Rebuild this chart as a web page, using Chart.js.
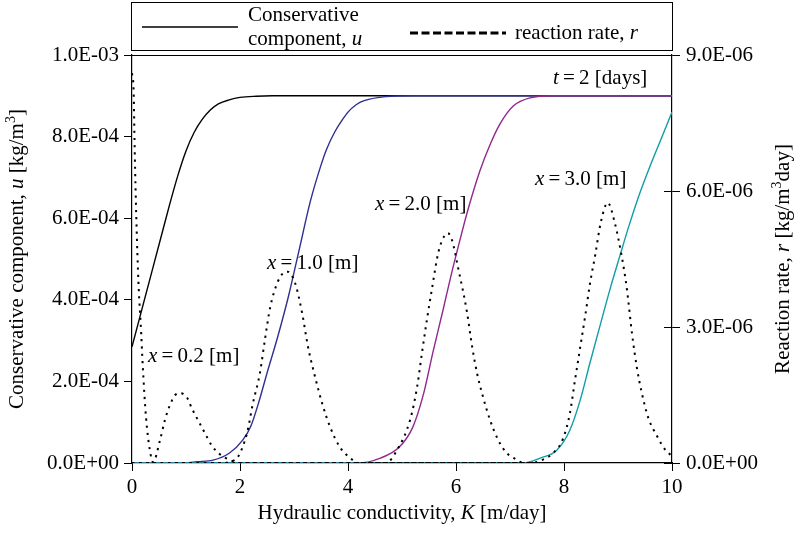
<!DOCTYPE html>
<html lang="en">
<head>
<meta charset="UTF-8">
<title>Conservative component and reaction rate vs hydraulic conductivity</title>
<script src="https://cdn.jsdelivr.net/npm/chart.js"></script>
<style>
  body { margin: 0; background: #fff; }
  canvas { display: block; }
</style>
</head>
<body>
<canvas id="chart" width="794" height="533"></canvas>
<script>
// hydraulic conductivity K [m/day] -> conservative component u [kg/m3], one pair per distance x
const kU02 = [0, 0.2, 0.4, 0.55, 0.7, 0.85, 1.0, 1.15, 1.3, 1.45, 1.6, 1.8, 2.0, 2.3, 2.6, 10];
const u02  = [2.85e-4, 3.85e-4, 4.85e-4, 5.6e-4, 6.35e-4, 7.05e-4, 7.65e-4, 8.1e-4, 8.42e-4, 8.65e-4, 8.8e-4, 8.9e-4, 8.96e-4, 8.99e-4, 9.0e-4, 9.0e-4];

const kU10 = [0, 1.0, 1.2, 1.5, 1.8, 2.05, 2.2, 2.35, 2.5, 2.7, 2.9, 3.1, 3.3, 3.5, 3.6, 3.75, 3.9, 4.0, 4.15, 4.3, 4.7, 5.2, 10];
const u10  = [0, 0, 0.03e-4, 0.07e-4, 0.24e-4, 0.56e-4, 0.9e-4, 1.5e-4, 2.2e-4, 3.1e-4, 4.1e-4, 5.25e-4, 6.4e-4, 7.3e-4, 7.68e-4, 8.1e-4, 8.42e-4, 8.6e-4, 8.78e-4, 8.88e-4, 8.98e-4, 9.0e-4, 9.0e-4];

const kU20 = [0, 4.2, 4.6, 4.95, 5.2, 5.4, 5.57, 5.76, 5.9, 6.07, 6.22, 6.44, 6.63, 6.81, 7.06, 7.37, 7.8, 10];
const u20  = [0, 0, 0.12e-4, 0.39e-4, 0.88e-4, 1.7e-4, 2.7e-4, 3.75e-4, 4.55e-4, 5.45e-4, 6.2e-4, 7.15e-4, 7.8e-4, 8.3e-4, 8.75e-4, 8.95e-4, 9.0e-4, 9.0e-4];

const kU30 = [0, 7.25, 7.56, 7.87, 8.11, 8.3, 8.48, 8.67, 8.85, 9.04, 9.2, 9.4, 9.6, 9.8, 10];
const u30  = [0, 0, 0.12e-4, 0.32e-4, 0.81e-4, 1.54e-4, 2.45e-4, 3.38e-4, 4.25e-4, 5.1e-4, 5.8e-4, 6.6e-4, 7.3e-4, 7.95e-4, 8.6e-4];

// reaction rate r [kg/m3day]
const kR02 = [0, 0.03, 0.05, 0.08, 0.12, 0.17, 0.2, 0.26, 0.33, 0.39, 0.52, 0.61, 0.7, 0.8, 0.89, 1.02, 1.11, 1.22, 1.35, 1.48, 1.63, 1.81, 2.0, 10];
const r02  = [8.6e-6, 8.2e-6, 6.9e-6, 5.4e-6, 3.97e-6, 2.87e-6, 2.12e-6, 1.0e-6, 0.29e-6, 0.02e-6, 0.51e-6, 0.95e-6, 1.27e-6, 1.5e-6, 1.54e-6, 1.44e-6, 1.2e-6, 0.95e-6, 0.66e-6, 0.38e-6, 0.19e-6, 0.07e-6, 0, 0];

const kR10 = [0, 1.7, 1.85, 1.96, 2.13, 2.24, 2.37, 2.46, 2.56, 2.69, 2.8, 2.88, 3.02, 3.15, 3.26, 3.39, 3.52, 3.67, 3.85, 4.04, 4.2, 10];
const r10  = [0, 0, 0.04e-6, 0.13e-6, 0.66e-6, 1.32e-6, 1.99e-6, 2.71e-6, 3.44e-6, 3.97e-6, 4.19e-6, 4.22e-6, 3.97e-6, 3.31e-6, 2.56e-6, 1.9e-6, 1.32e-6, 0.79e-6, 0.35e-6, 0.11e-6, 0, 0];

const kR20 = [0, 4.7, 4.91, 5.15, 5.28, 5.37, 5.46, 5.56, 5.67, 5.78, 5.85, 5.93, 6.04, 6.2, 6.3, 6.39, 6.5, 6.63, 6.78, 6.94, 7.13, 7.25, 10];
const r20  = [0, 0, 0.29e-6, 0.95e-6, 1.68e-6, 2.43e-6, 3.15e-6, 3.88e-6, 4.63e-6, 5.0e-6, 5.07e-6, 4.9e-6, 4.3e-6, 3.35e-6, 2.56e-6, 1.98e-6, 1.46e-6, 0.95e-6, 0.51e-6, 0.22e-6, 0.07e-6, 0, 0];

const kR30 = [0, 7.4, 7.6, 7.8, 7.98, 8.11, 8.2, 8.3, 8.4, 8.48, 8.58, 8.68, 8.81, 8.94, 9.07, 9.16, 9.26, 9.35, 9.44, 9.56, 9.72, 9.87, 10];
const r30  = [0, 0, 0.07e-6, 0.22e-6, 0.53e-6, 1.1e-6, 1.8e-6, 2.55e-6, 3.3e-6, 3.95e-6, 4.6e-6, 5.3e-6, 5.74e-6, 5.3e-6, 4.55e-6, 3.88e-6, 2.85e-6, 2.1e-6, 1.55e-6, 1.0e-6, 0.6e-6, 0.3e-6, 0.15e-6];

const xTicks = [0, 2, 4, 6, 8, 10];
const uTicks = [0, 2e-4, 4e-4, 6e-4, 8e-4, 1e-3];
const rTicks = [0, 3e-6, 6e-6, 9e-6];

const SERIF = '"Liberation Serif", "Times New Roman", serif';
const FS = 21;

function pts(ks, vs) {
  return ks.map((k, i) => ({ x: k, y: vs[i] }));
}

function sci(v) {
  const [m, e] = Number(v).toExponential(1).split('e');
  const n = parseInt(e, 10);
  return m.toUpperCase() + 'E' + (n < 0 ? '-' : '+') + String(Math.abs(n)).padStart(2, '0');
}

function uLine(ks, vs, color) {
  return { data: pts(ks, vs), yAxisID: 'y', borderColor: color, borderWidth: 1.4,
           pointRadius: 0, cubicInterpolationMode: 'monotone', fill: false };
}
function rLine(ks, vs) {
  return { data: pts(ks, vs), yAxisID: 'y1', borderColor: '#000', borderWidth: 2,
           borderDash: [2.2, 5], pointRadius: 0, cubicInterpolationMode: 'monotone', fill: false };
}

function fontOf(p, size) {
  return (p.it ? 'italic ' : '') + Math.round(p.sup ? size * 0.65 : size) + 'px ' + SERIF;
}
function rich(ctx, parts, x, y, size, align) {
  let w = 0;
  parts.forEach(p => { ctx.font = fontOf(p, size); w += ctx.measureText(p.t).width; });
  let cx = align === 'center' ? x - w / 2 : x;
  ctx.textAlign = 'left';
  ctx.textBaseline = 'alphabetic';
  parts.forEach(p => {
    ctx.font = fontOf(p, size);
    ctx.fillText(p.t, cx, y + (p.sup ? -size * 0.38 : 0));
    cx += ctx.measureText(p.t).width;
  });
}

const T = '\u2009';
const labels = [
  { parts: [{ t: 't', it: true }, { t: T + '=' + T + '2 [days]' }], x: 553, y: 84 },
  { parts: [{ t: 'x', it: true }, { t: T + '=' + T + '3.0 [m]' }], x: 535, y: 185 },
  { parts: [{ t: 'x', it: true }, { t: T + '=' + T + '2.0 [m]' }], x: 375, y: 210 },
  { parts: [{ t: 'x', it: true }, { t: T + '=' + T + '1.0 [m]' }], x: 267, y: 269 },
  { parts: [{ t: 'x', it: true }, { t: T + '=' + T + '0.2 [m]' }], x: 148, y: 362 }
];

const decor = {
  id: 'decor',
  afterDraw(chart) {
    const ctx = chart.ctx;
    const a = chart.chartArea;
    ctx.save();
    ctx.fillStyle = '#000';
    ctx.strokeStyle = '#000';

    // top frame line
    ctx.lineWidth = 1.2;
    ctx.beginPath();
    ctx.moveTo(a.left - 4, a.top + 0.5);
    ctx.lineTo(a.right, a.top + 0.5);
    ctx.stroke();

    // inner half of the right axis ticks
    const r = chart.scales.y1;
    ctx.lineWidth = 1;
    rTicks.forEach(v => {
      const py = Math.round(r.getPixelForValue(v)) + 0.5;
      ctx.beginPath();
      ctx.moveTo(a.right - 8, py);
      ctx.lineTo(a.right, py);
      ctx.stroke();
    });

    // legend box
    ctx.lineWidth = 1;
    ctx.strokeRect(131.5, 2.5, 541, 48);
    ctx.lineWidth = 1.3;
    ctx.beginPath();
    ctx.moveTo(142, 27);
    ctx.lineTo(238, 27);
    ctx.stroke();
    rich(ctx, [{ t: 'Conservative' }], 248, 21, FS);
    rich(ctx, [{ t: 'component, ' }, { t: 'u', it: true }], 248, 45, FS);
    ctx.lineWidth = 3;
    ctx.setLineDash([8, 3.5]);
    ctx.beginPath();
    ctx.moveTo(410, 33);
    ctx.lineTo(506, 33);
    ctx.stroke();
    ctx.setLineDash([]);
    rich(ctx, [{ t: 'reaction rate, ' }, { t: 'r', it: true }], 515, 39, FS);

    // curve labels
    labels.forEach(l => rich(ctx, l.parts, l.x, l.y, FS));

    // axis titles
    rich(ctx, [{ t: 'Hydraulic conductivity, ' }, { t: 'K', it: true }, { t: ' [m/day]' }],
         (a.left + a.right) / 2, 519, FS, 'center');

    ctx.save();
    ctx.translate(23, (a.top + a.bottom) / 2);
    ctx.rotate(-Math.PI / 2);
    rich(ctx, [{ t: 'Conservative component, ' }, { t: 'u', it: true }, { t: ' [kg/m' }, { t: '3', sup: true }, { t: ']' }],
         0, 0, FS, 'center');
    ctx.restore();

    ctx.save();
    ctx.translate(789, (a.top + a.bottom) / 2);
    ctx.rotate(-Math.PI / 2);
    rich(ctx, [{ t: 'Reaction rate, ' }, { t: 'r', it: true }, { t: ' [kg/m' }, { t: '3', sup: true }, { t: 'day]' }],
         0, 0, FS, 'center');
    ctx.restore();

    ctx.restore();
  }
};

const tickFont = { family: SERIF, size: FS };

new Chart(document.getElementById('chart'), {
  type: 'line',
  data: {
    datasets: [
      rLine(kR02, r02),
      rLine(kR10, r10),
      rLine(kR20, r20),
      rLine(kR30, r30),
      uLine(kU30, u30, '#0f9ea6'),
      uLine(kU20, u20, '#90288e'),
      uLine(kU10, u10, '#2d2f93'),
      uLine(kU02, u02, '#000000')
    ]
  },
  options: {
    responsive: false,
    animation: false,
    devicePixelRatio: 1,
    layout: { padding: { top: 55, left: 0, right: 0, bottom: 0 } },
    plugins: { legend: { display: false }, tooltip: { enabled: false } },
    scales: {
      x: {
        type: 'linear', min: 0, max: 10,
        afterBuildTicks: s => { s.ticks = xTicks.map(v => ({ value: v })); },
        afterFit: s => { s.height = 70; },
        ticks: { font: tickFont, color: '#000', padding: 4, maxRotation: 0 },
        grid: { drawOnChartArea: false, tickLength: 8, color: '#000', tickWidth: 1 },
        border: { color: '#000', width: 1.2 }
      },
      y: {
        type: 'linear', position: 'left', min: 0, max: 1e-3,
        afterBuildTicks: s => { s.ticks = uTicks.map(v => ({ value: v })); },
        afterFit: s => { s.width = 132; },
        ticks: { font: tickFont, color: '#000', padding: 5, callback: v => sci(v) },
        grid: { drawOnChartArea: false, tickLength: 8, color: '#000', tickWidth: 1 },
        border: { color: '#000', width: 1.2 }
      },
      y1: {
        type: 'linear', position: 'right', min: 0, max: 9e-6,
        afterBuildTicks: s => { s.ticks = rTicks.map(v => ({ value: v })); },
        afterFit: s => { s.width = 122; },
        ticks: { font: tickFont, color: '#000', padding: 6, callback: v => sci(v) },
        grid: { drawOnChartArea: false, tickLength: 8, color: '#000', tickWidth: 1 },
        border: { color: '#000', width: 1.2 }
      }
    }
  },
  plugins: [decor]
});
</script>
</body>
</html>
